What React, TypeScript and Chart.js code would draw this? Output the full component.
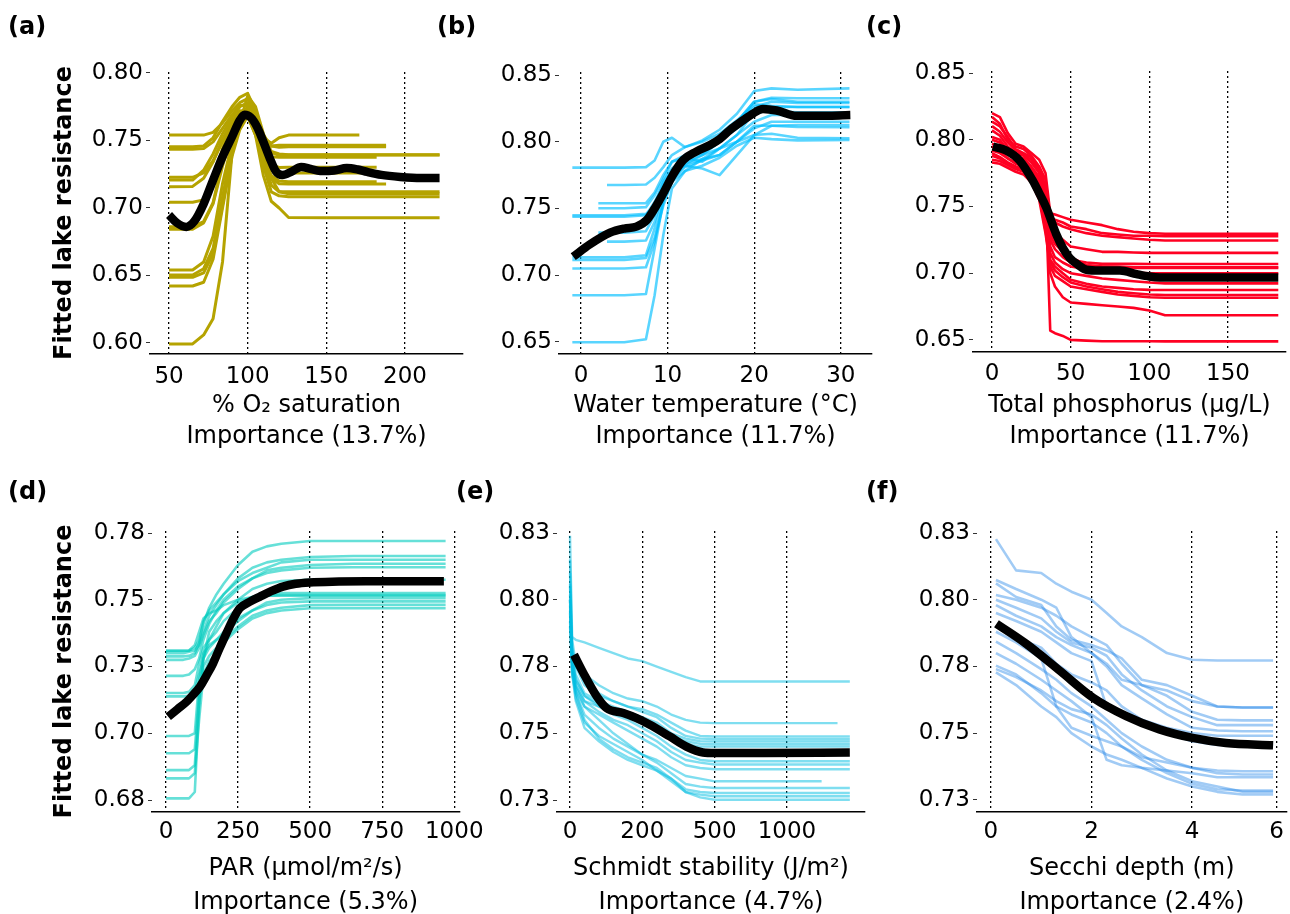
import React, { useEffect, useRef } from "react";
import { Chart, registerables } from "chart.js";
Chart.register(...registerables);
Chart.defaults.font.family = "'DejaVu Sans', sans-serif";

// ---------------- Panel (a): % O2 saturation ----------------
const A_X = [50, 65, 72, 78, 84, 90, 95, 100, 105, 110, 115, 120, 126, 150, 171, 182, 188, 222];
const A_LINES = [
  [0.754, 0.754, 0.754, 0.756, 0.763, 0.772, 0.778, 0.781, 0.768, 0.752, 0.748, 0.752, 0.754, 0.754, 0.754, null, null, null],
  [0.7454, 0.7454, 0.746, 0.752, 0.764, 0.775, 0.782, 0.785, 0.772, 0.754, 0.746, 0.745, 0.7454, 0.7454, 0.7454, 0.7454, 0.7454, null],
  [0.7435, 0.7435, 0.744, 0.749, 0.759, 0.769, 0.776, 0.776, 0.766, 0.748, 0.741, 0.739, 0.7393, 0.7393, 0.7393, 0.7393, 0.7393, 0.7393],
  [0.7227, 0.7227, 0.726, 0.735, 0.749, 0.764, 0.772, 0.771, 0.759, 0.745, 0.738, 0.7375, 0.7375, 0.7375, 0.7375, 0.7375, null, null],
  [0.7207, 0.7207, 0.728, 0.74, 0.755, 0.767, 0.775, 0.778, 0.764, 0.744, 0.732, 0.73, 0.7301, 0.7301, 0.7301, 0.7301, null, null],
  [0.7158, 0.716, 0.722, 0.734, 0.751, 0.764, 0.77, 0.768, 0.754, 0.735, 0.722, 0.718, 0.7178, 0.7178, 0.7178, 0.7178, 0.7178, null],
  [0.7042, 0.7042, 0.706, 0.719, 0.744, 0.761, 0.771, 0.774, 0.76, 0.735, 0.717, 0.712, 0.712, 0.712, 0.712, 0.712, 0.712, 0.712],
  [0.6862, 0.6862, 0.69, 0.704, 0.734, 0.757, 0.769, 0.772, 0.76, 0.731, 0.712, 0.709, 0.7084, 0.7084, 0.7084, 0.7084, 0.7084, 0.7084],
  [0.6842, 0.6842, 0.689, 0.703, 0.731, 0.754, 0.764, 0.768, 0.754, 0.724, 0.705, 0.7, 0.693, 0.6928, 0.6928, 0.6928, 0.6928, 0.6928],
  [0.6541, 0.6541, 0.66, 0.679, 0.718, 0.748, 0.764, 0.77, 0.76, 0.74, 0.728, 0.726, 0.726, 0.726, 0.726, 0.726, null, null],
  [0.6504, 0.6504, 0.655, 0.67, 0.708, 0.744, 0.762, 0.772, 0.765, 0.742, 0.722, 0.712, 0.7105, 0.7105, 0.7105, 0.7105, 0.7105, 0.7105],
  [0.6487, 0.6487, 0.652, 0.666, 0.702, 0.74, 0.763, 0.783, 0.775, 0.755, 0.742, 0.74, 0.7395, 0.7395, 0.7395, 0.7395, 0.7395, 0.7395],
  [0.6422, 0.6422, 0.645, 0.662, 0.7, 0.738, 0.758, 0.768, 0.76, 0.738, 0.724, 0.72, 0.7195, 0.7195, 0.7195, 0.7195, null, null],
  [0.5993, 0.5993, 0.606, 0.618, 0.66, 0.74, 0.765, 0.775, 0.767, 0.752, 0.746, 0.7465, 0.7465, 0.7465, 0.7465, 0.7465, 0.7465, null],
];
const A_FIT_X = [50, 55, 61, 66, 72, 78, 84, 90, 95, 98, 102, 106, 110, 114, 118, 122, 128, 134, 140, 146, 155, 163, 170, 176, 185, 197, 210, 222];
const A_FIT_Y = [0.6948, 0.689, 0.686, 0.69, 0.703, 0.7207, 0.738, 0.7526, 0.765, 0.769, 0.767, 0.76, 0.749, 0.737, 0.727, 0.7244, 0.727, 0.7304, 0.729, 0.7274, 0.7278, 0.7296, 0.7285, 0.7267, 0.7245, 0.723, 0.7222, 0.7222];
const A_XTICKS = [50, 100, 150, 200];
const A_XLABELS = ["50", "100", "150", "200"];
const A_YTICKS = [0.6, 0.65, 0.7, 0.75, 0.8];
const A_YLABELS = ["0.60", "0.65", "0.70", "0.75", "0.80"];

// ---------------- Panel (b): water temperature ----------------
const B_X = [-1, 2, 3, 5, 7.5, 8.5, 9.5, 10.5, 12, 14, 16, 18, 20, 22, 25, 31];
const B_LINES = [
  [0.7806, 0.7806, 0.7806, 0.7806, 0.781, 0.786, 0.8, 0.803, 0.796, 0.8, 0.806, 0.816, 0.826, 0.83, 0.829, 0.829],
  [null, null, 0.7676, 0.7676, 0.768, 0.773, 0.781, 0.79, 0.796, 0.801, 0.809, 0.821, 0.838, 0.84, 0.839, 0.84],
  [null, 0.7539, 0.7539, 0.7539, 0.754, 0.762, 0.775, 0.785, 0.79, 0.791, 0.8, 0.815, 0.83, 0.833, 0.8326, 0.8326],
  [null, 0.7502, 0.7502, 0.7502, 0.751, 0.76, 0.772, 0.785, 0.788, 0.795, 0.8, 0.81, 0.82, 0.826, 0.826, 0.826],
  [0.745, 0.745, 0.745, 0.745, 0.746, 0.752, 0.77, 0.78, 0.788, 0.785, 0.795, 0.805, 0.815, 0.82, 0.8201, 0.8201],
  [0.7438, 0.7438, 0.7438, 0.7438, 0.745, 0.755, 0.768, 0.779, 0.783, 0.787, 0.79, 0.8, 0.81, 0.815, 0.815, 0.815],
  [null, 0.7319, 0.7319, 0.7319, 0.733, 0.745, 0.765, 0.777, 0.782, 0.78, 0.775, 0.79, 0.805, 0.812, 0.8126, 0.8126],
  [null, null, 0.7252, 0.7252, 0.726, 0.74, 0.762, 0.776, 0.785, 0.79, 0.795, 0.8, 0.812, 0.812, 0.811, 0.8109],
  [0.7134, 0.7134, 0.7134, 0.7134, 0.715, 0.735, 0.758, 0.772, 0.781, 0.786, 0.79, 0.8, 0.805, 0.806, 0.803, 0.8026],
  [0.7114, 0.7114, 0.7114, 0.7114, 0.713, 0.728, 0.752, 0.77, 0.778, 0.782, 0.788, 0.797, 0.803, 0.802, 0.801, 0.8013],
  [0.705, 0.705, 0.705, 0.705, 0.706, 0.725, 0.755, 0.775, 0.79, 0.795, 0.803, 0.815, 0.828, 0.827, 0.826, 0.826],
  [0.685, 0.685, 0.685, 0.685, 0.686, 0.72, 0.755, 0.77, 0.783, 0.79, 0.8, 0.815, 0.83, 0.832, 0.83, 0.83],
  [0.6498, 0.6498, 0.6498, 0.6498, 0.652, 0.685, 0.73, 0.765, 0.778, 0.787, 0.795, 0.805, 0.822, 0.823, 0.822, 0.822],
];
const B_FIT_X = [-0.9, 1, 3.35, 5, 6.4, 7.6, 8.5, 9.5, 10.6, 11.8, 13.3, 14.9, 16, 17.2, 18.6, 19.9, 21, 22.6, 24.9, 27.2, 31.1];
const B_FIT_Y = [0.7139, 0.723, 0.7319, 0.735, 0.7364, 0.7414, 0.75, 0.7614, 0.775, 0.7863, 0.7926, 0.7976, 0.802, 0.8088, 0.8155, 0.8213, 0.8246, 0.8234, 0.8194, 0.8194, 0.82];
const B_XTICKS = [0, 10, 20, 30];
const B_XLABELS = ["0", "10", "20", "30"];
const BC_YTICKS = [0.65, 0.7, 0.75, 0.8, 0.85];
const BC_YLABELS = ["0.65", "0.70", "0.75", "0.80", "0.85"];

// ---------------- Panel (c): total phosphorus ----------------
const C_X = [0, 5, 10, 15, 20, 25, 30, 34, 37, 40, 45, 50, 60, 70, 80, 90, 100, 110, 182];
const C_LINES = [
  [0.82, 0.817, 0.805, 0.797, 0.795, 0.79, 0.785, 0.775, 0.745, 0.744, 0.742, 0.74, 0.738, 0.736, 0.733, 0.731, 0.73, 0.7295, 0.7295],
  [0.817, 0.812, 0.8, 0.795, 0.793, 0.788, 0.78, 0.77, 0.742, 0.74, 0.738, 0.735, 0.733, 0.73, 0.729, 0.728, 0.728, 0.7277, 0.7277],
  [0.8135, 0.81, 0.802, 0.793, 0.79, 0.787, 0.779, 0.765, 0.74, 0.738, 0.735, 0.733, 0.73, 0.728, 0.727, 0.726, 0.725, 0.7245, 0.7245],
  [0.8102, 0.806, 0.798, 0.792, 0.789, 0.785, 0.777, 0.76, 0.735, 0.73, 0.725, 0.72, 0.718, 0.716, 0.716, 0.7155, 0.7152, 0.7152, 0.7152],
  [0.807, 0.803, 0.795, 0.79, 0.788, 0.783, 0.775, 0.755, 0.73, 0.725, 0.715, 0.71, 0.708, 0.707, 0.707, 0.707, 0.7069, 0.7069, 0.7069],
  [0.802, 0.8, 0.792, 0.788, 0.786, 0.78, 0.772, 0.75, 0.725, 0.718, 0.712, 0.708, 0.706, 0.705, 0.705, 0.7045, 0.7044, 0.7044, 0.7044],
  [0.797, 0.795, 0.789, 0.786, 0.784, 0.778, 0.768, 0.745, 0.72, 0.712, 0.708, 0.705, 0.703, 0.702, 0.701, 0.7005, 0.7, 0.7, 0.7],
  [0.792, 0.79, 0.786, 0.783, 0.78, 0.775, 0.765, 0.74, 0.715, 0.708, 0.703, 0.7, 0.698, 0.696, 0.695, 0.694, 0.693, 0.6924, 0.6924],
  [0.788, 0.786, 0.782, 0.779, 0.778, 0.772, 0.76, 0.735, 0.71, 0.705, 0.7, 0.695, 0.692, 0.69, 0.689, 0.688, 0.6875, 0.6874, 0.6874],
  [0.785, 0.784, 0.781, 0.778, 0.776, 0.77, 0.758, 0.732, 0.708, 0.702, 0.697, 0.693, 0.69, 0.688, 0.686, 0.685, 0.684, 0.6836, 0.6836],
  [0.783, 0.782, 0.779, 0.776, 0.774, 0.768, 0.755, 0.73, 0.705, 0.698, 0.694, 0.69, 0.688, 0.686, 0.684, 0.683, 0.682, 0.6816, 0.6816],
  [0.79, 0.787, 0.783, 0.78, 0.778, 0.772, 0.762, 0.74, 0.7, 0.69, 0.682, 0.678, 0.677, 0.676, 0.675, 0.674, 0.672, 0.6685, 0.6685],
  [0.795, 0.792, 0.786, 0.782, 0.78, 0.776, 0.77, 0.76, 0.657, 0.655, 0.653, 0.65, 0.6495, 0.649, 0.649, 0.649, 0.649, 0.6489, 0.6489],
  [0.8, 0.798, 0.79, 0.786, 0.783, 0.779, 0.77, 0.752, 0.728, 0.722, 0.716, 0.712, 0.706, 0.705, 0.7045, 0.704, 0.704, 0.704, 0.704],
];
const C_FIT_X = [0.5, 9, 17.6, 26, 30, 34.5, 40.9, 45, 49.4, 55, 60, 68.5, 81.3, 91.9, 100, 106.7, 128, 182];
const C_FIT_Y = [0.7949, 0.7919, 0.7843, 0.7692, 0.76, 0.7491, 0.729, 0.719, 0.7114, 0.706, 0.7026, 0.702, 0.702, 0.6993, 0.6975, 0.6968, 0.6968, 0.6968];
const C_XTICKS = [0, 50, 100, 150];
const C_XLABELS = ["0", "50", "100", "150"];

// ---------------- Panel (d): PAR ----------------
const D_X = [0, 60, 80, 100, 115, 130, 150, 175, 200, 250, 300, 350, 400, 500, 650, 970];
const D_LINES = [
  [0.7309, 0.7309, 0.731, 0.732, 0.735, 0.741, 0.747, 0.752, 0.756, 0.763, 0.768, 0.77, 0.771, 0.772, 0.772, 0.772],
  [0.73, 0.73, 0.7305, 0.731, 0.733, 0.738, 0.744, 0.748, 0.752, 0.758, 0.762, 0.764, 0.765, 0.766, 0.7664, 0.7664],
  [0.7288, 0.7288, 0.729, 0.73, 0.734, 0.742, 0.746, 0.749, 0.752, 0.757, 0.76, 0.762, 0.764, 0.765, 0.765, 0.765],
  [0.7275, 0.7275, 0.728, 0.729, 0.732, 0.737, 0.742, 0.745, 0.749, 0.754, 0.758, 0.761, 0.762, 0.763, 0.7635, 0.7635],
  [0.7215, 0.7215, 0.722, 0.724, 0.728, 0.735, 0.741, 0.746, 0.75, 0.755, 0.758, 0.76, 0.761, 0.762, 0.7622, 0.7622],
  [0.7151, 0.7151, 0.7155, 0.718, 0.726, 0.732, 0.735, 0.738, 0.742, 0.747, 0.751, 0.752, 0.7525, 0.7525, 0.7525, 0.7525],
  [0.7138, 0.7138, 0.714, 0.716, 0.722, 0.728, 0.732, 0.735, 0.737, 0.742, 0.746, 0.749, 0.75, 0.7506, 0.7506, 0.7506],
  [0.699, 0.699, 0.699, 0.7, 0.72, 0.73, 0.733, 0.735, 0.738, 0.743, 0.746, 0.748, 0.749, 0.7494, 0.7494, 0.7494],
  [0.6925, 0.6925, 0.6925, 0.694, 0.715, 0.725, 0.729, 0.732, 0.735, 0.74, 0.744, 0.746, 0.747, 0.748, 0.7481, 0.7481],
  [0.6862, 0.6862, 0.6862, 0.688, 0.712, 0.728, 0.738, 0.742, 0.745, 0.749, 0.751, 0.7515, 0.7515, 0.7515, 0.7515, 0.7515],
  [0.6831, 0.6831, 0.6831, 0.685, 0.705, 0.722, 0.727, 0.73, 0.734, 0.739, 0.743, 0.745, 0.746, 0.7468, 0.7468, 0.7468],
  [0.6756, 0.6756, 0.6756, 0.678, 0.71, 0.728, 0.735, 0.74, 0.745, 0.75, 0.754, 0.756, 0.757, 0.7575, 0.7575, 0.7575],
  [0.7309, 0.7309, 0.731, 0.733, 0.738, 0.743, 0.745, 0.746, 0.748, 0.75, 0.751, 0.7515, 0.7518, 0.7518, 0.7518, 0.7518],
];
const D_FIT_X = [8, 40, 71.5, 95, 117.6, 140, 163.6, 186, 209.7, 232, 255.8, 290, 324.9, 365, 405.5, 450, 497.7, 600, 693.6, 964];
const D_FIT_Y = [0.7062, 0.709, 0.7118, 0.7145, 0.7174, 0.7215, 0.7262, 0.7318, 0.7374, 0.7425, 0.7468, 0.7492, 0.7511, 0.7532, 0.7549, 0.756, 0.7565, 0.7568, 0.7569, 0.7569];
const D_XTICKS = [0, 250, 500, 750, 1000];
const D_XLABELS = ["0", "250", "500", "750", "1000"];
const D_YTICKS = [0.675, 0.7, 0.725, 0.75, 0.775];
const D_YLABELS = ["0.68", "0.70", "0.73", "0.75", "0.78"];

// ---------------- Panel (e): Schmidt stability (axis in display units) ----------------
const E_X = [0, 0.03, 0.08, 0.2, 0.4, 0.6, 0.8, 1.0, 1.2, 1.4, 1.6, 1.8, 2.0, 2.5, 3.48, 3.7, 3.87];
const E_LINES = [
  [0.79, 0.786, 0.785, 0.784, 0.782, 0.78, 0.778, 0.777, 0.775, 0.773, 0.771, 0.7694, 0.7694, 0.7694, 0.7694, 0.7694, 0.7694],
  [0.8, 0.78, 0.775, 0.772, 0.768, 0.765, 0.763, 0.762, 0.76, 0.757, 0.755, 0.754, 0.7538, 0.7538, 0.7538, 0.7538, null],
  [0.824, 0.785, 0.776, 0.77, 0.765, 0.762, 0.76, 0.759, 0.757, 0.754, 0.751, 0.749, 0.7488, 0.7488, 0.7488, 0.7488, 0.7488],
  [0.815, 0.782, 0.775, 0.768, 0.764, 0.762, 0.76, 0.758, 0.756, 0.752, 0.749, 0.748, 0.7478, 0.7478, 0.7478, 0.7478, 0.7478],
  [0.81, 0.78, 0.772, 0.765, 0.762, 0.76, 0.758, 0.756, 0.754, 0.75, 0.748, 0.747, 0.7469, 0.7469, 0.7469, 0.7469, 0.7469],
  [0.806, 0.779, 0.77, 0.764, 0.761, 0.759, 0.757, 0.755, 0.752, 0.749, 0.747, 0.746, 0.7459, 0.7459, 0.7459, 0.7459, 0.7459],
  [0.802, 0.778, 0.768, 0.762, 0.76, 0.758, 0.756, 0.754, 0.751, 0.748, 0.746, 0.745, 0.745, 0.745, 0.745, 0.745, 0.745],
  [0.805, 0.778, 0.77, 0.764, 0.76, 0.757, 0.755, 0.752, 0.749, 0.745, 0.742, 0.74, 0.7395, 0.7395, 0.7395, 0.7395, 0.7395],
  [0.798, 0.776, 0.768, 0.762, 0.758, 0.755, 0.753, 0.75, 0.747, 0.743, 0.74, 0.739, 0.7383, 0.7383, 0.7383, 0.7383, 0.7383],
  [0.796, 0.775, 0.766, 0.76, 0.757, 0.754, 0.751, 0.748, 0.745, 0.741, 0.738, 0.737, 0.7365, 0.7365, 0.7365, 0.7365, 0.7365],
  [0.8, 0.775, 0.767, 0.76, 0.755, 0.75, 0.746, 0.742, 0.74, 0.737, 0.734, 0.733, 0.732, 0.732, 0.732, null, null],
  [0.795, 0.772, 0.765, 0.757, 0.752, 0.748, 0.745, 0.742, 0.739, 0.735, 0.731, 0.73, 0.7295, 0.7295, 0.7295, 0.7295, 0.7295],
  [0.8, 0.775, 0.765, 0.755, 0.748, 0.744, 0.741, 0.739, 0.737, 0.733, 0.729, 0.728, 0.7276, 0.7276, 0.7276, 0.7276, 0.7276],
  [0.792, 0.773, 0.763, 0.754, 0.749, 0.746, 0.743, 0.74, 0.736, 0.732, 0.728, 0.727, 0.7264, 0.7264, 0.7264, 0.7264, 0.7264],
  [0.79, 0.772, 0.762, 0.752, 0.747, 0.743, 0.74, 0.738, 0.736, 0.733, 0.728, 0.726, 0.7251, 0.7251, 0.7251, 0.7251, 0.7251],
];
const E_FIT_X = [0.055, 0.184, 0.37, 0.506, 0.736, 0.92, 1.105, 1.38, 1.61, 1.84, 2.0, 2.67, 3.87];
const E_FIT_Y = [0.7794, 0.7726, 0.7638, 0.7594, 0.7576, 0.7557, 0.7532, 0.7488, 0.745, 0.7428, 0.7426, 0.7426, 0.7428];
const E_XTICKS = [0, 1, 2, 3];
const E_XLABELS = ["0", "200", "500", "1000"];
const EF_YTICKS = [0.725, 0.75, 0.775, 0.8, 0.825];
const EF_YLABELS = ["0.73", "0.75", "0.78", "0.80", "0.83"];

// ---------------- Panel (f): Secchi depth ----------------
const F_X = [0.1, 0.5, 1.0, 1.3, 1.6, 2.0, 2.3, 2.6, 3.0, 3.5, 4.0, 4.5, 5.0, 5.61];
const F_LINES = [
  [0.8227, 0.811, 0.81, 0.806, 0.803, 0.8, 0.795, 0.79, 0.786, 0.78, 0.7775, 0.7772, 0.7772, 0.7772],
  [0.8074, 0.804, 0.8, 0.797, 0.786, 0.78, 0.776, 0.77, 0.768, 0.766, 0.762, 0.76, 0.7596, 0.7596],
  [0.8061, 0.801, 0.798, 0.79, 0.785, 0.783, 0.781, 0.778, 0.77, 0.768, 0.764, 0.76, 0.7596, 0.7596],
  [0.8018, 0.8, 0.797, 0.794, 0.79, 0.786, 0.783, 0.776, 0.768, 0.764, 0.758, 0.755, 0.7548, 0.7548],
  [0.8, 0.797, 0.793, 0.788, 0.784, 0.782, 0.779, 0.772, 0.766, 0.76, 0.756, 0.753, 0.753, 0.753],
  [0.798, 0.794, 0.79, 0.786, 0.783, 0.78, 0.775, 0.768, 0.763, 0.757, 0.752, 0.751, 0.7507, 0.7507],
  [0.795, 0.792, 0.788, 0.784, 0.78, 0.777, 0.76, 0.757, 0.755, 0.752, 0.75, 0.749, 0.749, 0.749],
  [0.79, 0.786, 0.782, 0.776, 0.772, 0.769, 0.766, 0.76, 0.755, 0.75, 0.747, 0.7456, 0.7456, 0.7456],
  [0.788, 0.784, 0.778, 0.76, 0.752, 0.749, 0.747, 0.745, 0.741, 0.739, 0.737, 0.736, 0.7357, 0.7357],
  [0.7843, 0.78, 0.774, 0.77, 0.765, 0.76, 0.755, 0.75, 0.745, 0.74, 0.737, 0.735, 0.7345, 0.7345],
  [0.78, 0.776, 0.77, 0.766, 0.762, 0.756, 0.74, 0.738, 0.737, 0.736, 0.735, 0.7335, 0.7335, 0.7335],
  [0.7753, 0.772, 0.765, 0.76, 0.757, 0.754, 0.75, 0.745, 0.74, 0.735, 0.731, 0.729, 0.7285, 0.7285],
  [0.774, 0.771, 0.766, 0.762, 0.759, 0.757, 0.753, 0.748, 0.742, 0.736, 0.732, 0.73, 0.728, 0.728],
  [0.7728, 0.768, 0.76, 0.756, 0.75, 0.745, 0.742, 0.74, 0.737, 0.733, 0.73, 0.728, 0.727, 0.727],
];
const F_FIT_X = [0.11, 0.7, 1.37, 2.03, 2.69, 3.35, 4.01, 4.67, 5.61];
const F_FIT_Y = [0.791, 0.7835, 0.7734, 0.7633, 0.7564, 0.7514, 0.7482, 0.7463, 0.7455];
const F_XTICKS = [0, 2, 4, 5.68];
const F_XLABELS = ["0", "2", "4", "6"];

const Y_TITLE = "Fitted lake resistance";

type Spec = {
  key: string; tag: string; tagX: number; tagY: number;
  xs: number[]; lines: (number | null)[][]; fitX: number[]; fitY: number[];
  color: string; lw: number;
  xMin: number; xMax: number; yMin: number; yMax: number;
  xTicks: number[]; xLabels: string[]; yTicks: number[]; yLabels: string[];
  xTitle: string[]; yTitle: boolean;
  left: number; top: number; w: number; h: number;
  padTop: number; padRight: number; padBottom: number; yW: number; xH: number;
  tickPad: number; titleLH: number;
};

const SPECS: Spec[] = [
  { key: "a", tag: "(a)", tagX: 8, tagY: 26, xs: A_X, lines: A_LINES, fitX: A_FIT_X, fitY: A_FIT_Y,
    color: "rgb(181,163,0)", lw: 3, xMin: 37.9, xMax: 236.9, yMin: 0.59185, yMax: 0.80074,
    xTicks: A_XTICKS, xLabels: A_XLABELS, yTicks: A_YTICKS, yLabels: A_YLABELS,
    xTitle: ["% O\u2082 saturation", "Importance (13.7%)"], yTitle: true,
    left: 0, top: 0, w: 480, h: 457, padTop: 72, padRight: 17, padBottom: 5, yW: 150, xH: 98, tickPad: 9, titleLH: 31 },
  { key: "b", tag: "(b)", tagX: 437, tagY: 26, xs: B_X, lines: B_LINES, fitX: B_FIT_X, fitY: B_FIT_Y,
    color: "rgba(0,191,255,0.65)", lw: 2.6, xMin: -2.54, xMax: 33.6, yMin: 0.64101, yMax: 0.85225,
    xTicks: B_XTICKS, xLabels: B_XLABELS, yTicks: BC_YTICKS, yLabels: BC_YLABELS,
    xTitle: ["Water temperature (\u00B0C)", "Importance (11.7%)"], yTitle: false,
    left: 440, top: 0, w: 460, h: 457, padTop: 72, padRight: 28, padBottom: 5, yW: 119, xH: 98, tickPad: 8, titleLH: 31 },
  { key: "c", tag: "(c)", tagX: 866, tagY: 26, xs: C_X, lines: C_LINES, fitX: C_FIT_X, fitY: C_FIT_Y,
    color: "rgb(255,0,34)", lw: 2.6, xMin: -12.1, xMax: 186.9, yMin: 0.64094, yMax: 0.85151,
    xTicks: C_XTICKS, xLabels: C_XLABELS, yTicks: BC_YTICKS, yLabels: BC_YLABELS,
    xTitle: ["Total phosphorus (\u03BCg/L)", "Importance (11.7%)"], yTitle: false,
    left: 870, top: 0, w: 420, h: 457, padTop: 71, padRight: 4, padBottom: 5, yW: 103, xH: 100, tickPad: 8, titleLH: 31 },
  { key: "d", tag: "(d)", tagX: 8, tagY: 491, xs: D_X, lines: D_LINES, fitX: D_FIT_X, fitY: D_FIT_Y,
    color: "rgba(0,204,190,0.6)", lw: 2.6, xMin: -48.4, xMax: 1017, yMin: 0.67051, yMax: 0.77575,
    xTicks: D_XTICKS, xLabels: D_XLABELS, yTicks: D_YTICKS, yLabels: D_YLABELS,
    xTitle: ["PAR (\u03BCmol/m\u00B2/s)", "Importance (5.3%)"], yTitle: true,
    left: 0, top: 457, w: 490, h: 465, padTop: 74, padRight: 30, padBottom: 2, yW: 152, xH: 108, tickPad: 6, titleLH: 34 },
  { key: "e", tag: "(e)", tagX: 456, tagY: 491, xs: E_X, lines: E_LINES, fitX: E_FIT_X, fitY: E_FIT_Y,
    color: "rgba(0,190,225,0.5)", lw: 2.4, xMin: -0.18, xMax: 4.08, yMin: 0.72051, yMax: 0.82575,
    xTicks: E_XTICKS, xLabels: E_XLABELS, yTicks: EF_YTICKS, yLabels: EF_YLABELS,
    xTitle: ["Schmidt stability (J/m\u00B2)", "Importance (4.7%)"], yTitle: false,
    left: 440, top: 457, w: 460, h: 465, padTop: 74, padRight: 35, padBottom: 2, yW: 117, xH: 108, tickPad: 6, titleLH: 34 },
  { key: "f", tag: "(f)", tagX: 866, tagY: 491, xs: F_X, lines: F_LINES, fitX: F_FIT_X, fitY: F_FIT_Y,
    color: "rgba(30,130,230,0.42)", lw: 2.6, xMin: -0.277, xMax: 5.88, yMin: 0.72045, yMax: 0.82575,
    xTicks: F_XTICKS, xLabels: F_XLABELS, yTicks: EF_YTICKS, yLabels: EF_YLABELS,
    xTitle: ["Secchi depth (m)", "Importance (2.4%)"], yTitle: false,
    left: 870, top: 457, w: 420, h: 465, padTop: 74, padRight: 2, padBottom: 2, yW: 107, xH: 108, tickPad: 6, titleLH: 34 },
];

function labelFor(ticks: number[], labels: string[], v: number): string {
  const i = ticks.findIndex((t) => Math.abs(t - v) < 1e-9);
  return i >= 0 ? labels[i] : "";
}

function Panel({ spec }: { spec: Spec }) {
  const ref = useRef<HTMLCanvasElement | null>(null);
  useEffect(() => {
    if (!ref.current) return;
    const datasets: any[] = [
      {
        data: spec.fitX.map((x, i) => ({ x, y: spec.fitY[i] })),
        borderColor: "#000", borderWidth: 8.5, pointRadius: 0,
        cubicInterpolationMode: "monotone", borderCapStyle: "butt", order: 0,
      },
      ...spec.lines.map((ys) => ({
        data: spec.xs.map((x, i) => ({ x, y: ys[i] })),
        borderColor: spec.color, borderWidth: spec.lw, pointRadius: 0,
        tension: 0, spanGaps: false, order: 1, borderJoinStyle: "round",
      })),
    ];
    const chart = new Chart(ref.current, {
      type: "line",
      data: { datasets },
      options: {
        animation: false, responsive: false, events: [],
        layout: { padding: { left: 0, top: spec.padTop, right: spec.padRight, bottom: spec.padBottom } },
        plugins: { legend: { display: false }, tooltip: { enabled: false }, title: { display: false } },
        scales: {
          x: {
            type: "linear", min: spec.xMin, max: spec.xMax,
            afterBuildTicks: (s: any) => { s.ticks = spec.xTicks.map((v) => ({ value: v })); },
            afterFit: (s: any) => { s.height = spec.xH; },
            ticks: {
              callback: (v: any) => labelFor(spec.xTicks, spec.xLabels, Number(v)),
              font: { size: 23 }, color: "#000", padding: spec.tickPad,
              maxRotation: 0, autoSkip: false,
            },
            grid: { display: true, drawOnChartArea: true, drawTicks: false, color: "#000", lineWidth: 1.3 },
            border: { display: true, color: "#000", width: 1.6, dash: [2, 3] },
            title: {
              display: true, text: spec.xTitle, color: "#000",
              font: { size: 24, lineHeight: spec.titleLH + "px" },
              padding: { top: 0, bottom: 0 },
            },
          },
          y: {
            type: "linear", min: spec.yMin, max: spec.yMax,
            afterBuildTicks: (s: any) => { s.ticks = spec.yTicks.map((v) => ({ value: v })); },
            afterFit: (s: any) => { s.width = spec.yW; },
            ticks: {
              callback: (v: any) => labelFor(spec.yTicks, spec.yLabels, Number(v)),
              font: { size: 23 }, color: "#000", padding: 3, autoSkip: false,
            },
            grid: { display: true, drawOnChartArea: false, drawTicks: true, tickLength: 4, tickColor: "#333", tickWidth: 1 },
            border: { display: false },
            title: spec.yTitle
              ? { display: true, text: Y_TITLE, color: "#000", font: { size: 24, weight: "bold", lineHeight: 1.2 }, padding: { top: 50, bottom: 0 } }
              : { display: false },
          },
        },
      } as any,
    });
    return () => chart.destroy();
  }, [spec]);
  return (
    <canvas
      ref={ref}
      width={spec.w}
      height={spec.h}
      style={{ position: "absolute", left: spec.left, top: spec.top, width: spec.w, height: spec.h }}
    />
  );
}

export default function App() {
  return (
    <div style={{ position: "absolute", left: 0, top: 0, width: 1290, height: 914, overflow: "hidden", background: "#fff" }}>
      {SPECS.map((s) => (
        <Panel key={s.key} spec={s} />
      ))}
      {SPECS.map((s) => (
        <div
          key={"t" + s.key}
          style={{
            position: "absolute", left: s.tagX, top: s.tagY - 14, height: 28, lineHeight: "28px",
            font: "bold 24px 'DejaVu Sans', sans-serif", color: "#000", whiteSpace: "nowrap",
          }}
        >
          {s.tag}
        </div>
      ))}
    </div>
  );
}
